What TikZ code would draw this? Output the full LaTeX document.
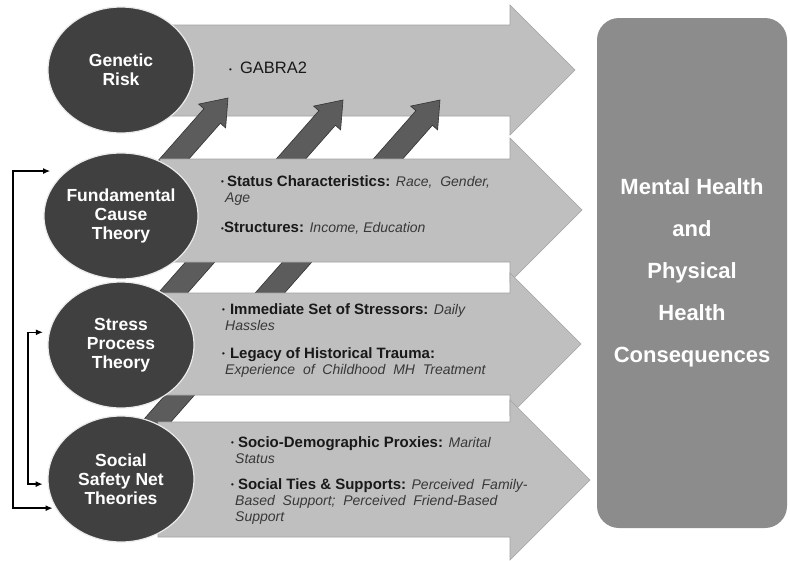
\documentclass[tikz,border=0pt]{standalone}
\usepackage{fontspec}
\setmainfont{Liberation Sans}
\usetikzlibrary{shapes.geometric,arrows.meta}
% slanted arrow: tip point, shaft length
\def\liftarrow(#1)(#2){\draw[lift, shift={(#1)}, rotate=48.6] (0,0) -- (-24,18) -- (-24,11) -- (-#2,11) -- (-#2,-11) -- (-24,-11) -- (-24,-18) -- cycle;}
\newcommand{\itemdot}{\raisebox{1.6pt}{\fontsize{8}{8}\selectfont\textbullet}}
\newcommand{\detail}[1]{{\normalfont\itshape\fontsize{14}{16}\selectfont\color{black!78}#1}}

\begin{document}
\begin{tikzpicture}[x=1pt, y=-1pt,
	bigarrow/.style={fill=black!25, draw=black!36, line width=0.6pt},
	lift/.style={fill=black!64, draw=black!80, line width=0.6pt},
	theory/.style={ellipse, fill=black!75, draw=black!8, line width=1.2pt, minimum width=146pt, minimum height=126pt, inner sep=0pt, align=center, text=white, font=\bfseries\fontsize{17.5}{19}\selectfont},
	outcome/.style={rectangle, rounded corners=22pt, fill=black!45, minimum width=190pt, minimum height=510pt, align=center, text=white, font=\bfseries\fontsize{22}{42}\selectfont},
	notes/.style={anchor=north west, inner sep=0pt, align=left, text=black!90, font=\bfseries\fontsize{15}{16}\selectfont},
	bracket/.style={{Latex[length=7pt,width=6pt]}-{Latex[length=7pt,width=6pt]}, line width=1.3pt}]
			%%%%% START %%%%%
			
			\fill[white] (0,0) rectangle (790,560);
			\useasboundingbox (0,0) rectangle (790,560);
			
			\draw[bigarrow] (160,25) -- (510,25) -- (510,5) -- (575,70) -- (510,135) -- (510,116) -- (160,116) -- cycle;
			
			\liftarrow(228,98)(158)
			\liftarrow(343,100)(326)
			\liftarrow(440,100)(507)
			
			\draw[bigarrow] (160,159) -- (510,159) -- (510,138) -- (582,210) -- (510,282) -- (510,262) -- (160,262) -- cycle;
			\draw[bigarrow] (160,293) -- (510,293) -- (510,273) -- (581,344) -- (510,415) -- (510,395) -- (160,395) -- cycle;
			\draw[bigarrow] (158,422) -- (510,422) -- (510,400) -- (590,480) -- (510,560) -- (510,537) -- (158,537) -- cycle;
			
			\node[notes, font=\fontsize{16.5}{18}\selectfont] (gabra) at (229,62) {\itemdot\hspace{8pt}GABRA2};
			\node[notes] (status) at (221,175) {\itemdot\hspace{3pt}Status Characteristics: \detail{Race,\ \ Gender,}\\\hspace*{4pt}\detail{Age}};
			\node[notes] (structures) at (221,222) {\itemdot Structures: \detail{Income,\ Education}};
			\node[notes] (stressors) at (222,303) {\itemdot\hspace{5pt}Immediate Set of Stressors: \detail{Daily}\\\hspace*{3pt}\detail{Hassles}};
			\node[notes] (legacy) at (222,347) {\itemdot\hspace{5pt}Legacy of Historical Trauma:\\\hspace*{3pt}\detail{Experience\ \ of\ \ Childhood\ \ MH\ \ Treatment}};
			\node[notes] (proxies) at (231,436) {\itemdot\hspace{4pt}Socio-Demographic Proxies: \detail{Marital}\\\hspace*{4pt}\detail{Status}};
			\node[notes] (ties) at (231,478) {\itemdot\hspace{4pt}Social Ties \& Supports: \detail{Perceived\ \ Family-}\\\hspace*{4pt}\detail{Based\ \ Support;\ \ Perceived\ \ Friend-Based}\\\hspace*{4pt}\detail{Support}};
			
			\node[theory] (genetic) at (121,70) {Genetic\\Risk};
			\node[theory] (fund) at (121,216) {Fundamental\\Cause\\Theory};
			\node[theory] (stress) at (121,345) {Stress\\Process\\Theory};
			\node[theory] (social) at (121,479) {Social\\Safety Net\\Theories};
			
			\node[outcome] (health) at (692,273) {Mental Health\\and\\Physical\\Health\\Consequences};
			
			% links between the theories
			\coordinate (outer) at (13,0);
			\coordinate (inner) at (28,0);
			\draw[bracket] ([xshift=-16pt]fund.north west) -- (outer |- fund.north west) |- ([xshift=-3pt]social.204);
			\draw[bracket] ([xshift=-6pt]stress.170) -- (inner |- stress.170) |- ([xshift=-5pt]social.184);
			
			%%%%% END %%%%%
\end{tikzpicture}
\end{document}
